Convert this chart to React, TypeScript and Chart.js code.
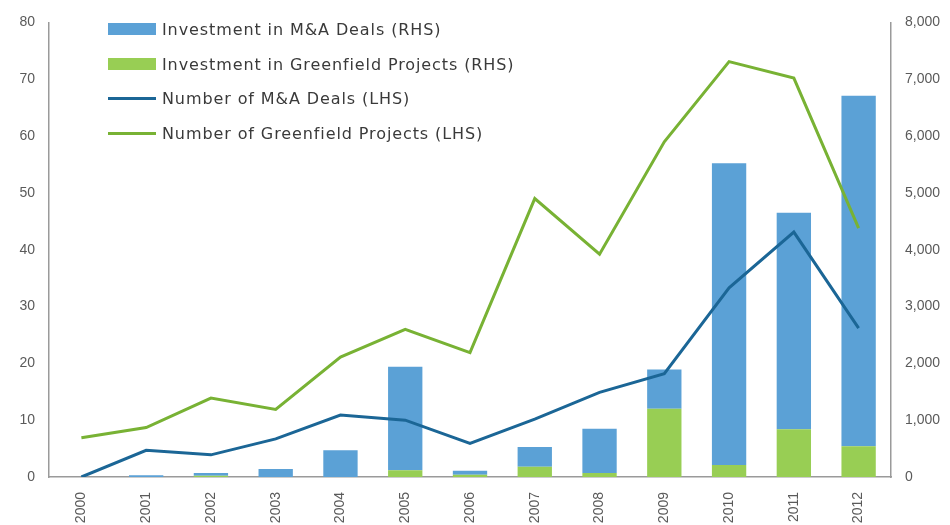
import React, { useEffect, useRef } from "react";
import { Chart, registerables } from "chart.js";

Chart.register(...registerables);

const years = ["2000", "2001", "2002", "2003", "2004", "2005", "2006", "2007", "2008", "2009", "2010", "2011", "2012"];
// Investment (RHS)
const maInvestment = [0, 30, 50, 140, 470, 1820, 70, 350, 780, 690, 5310, 3810, 6170];
const greenfieldInvestment = [0, 0, 20, 0, 0, 120, 40, 180, 70, 1200, 210, 840, 540];
// Numbers (LHS)
const maDeals = [0, 4.7, 3.9, 6.7, 10.9, 10, 5.9, 10.2, 14.9, 18.2, 33.3, 43.1, 26.2];
const greenfieldProjects = [6.9, 8.7, 13.9, 11.9, 21.1, 26.0, 21.9, 49.0, 39.2, 59.0, 73.1, 70.2, 43.8];

const legendLabels = [
  "Investment in M&A Deals (RHS)",
  "Investment in Greenfield Projects (RHS)",
  "Number of M&A Deals (LHS)",
  "Number of Greenfield Projects (LHS)",
];

const BAR_BLUE = "rgb(91,161,214)";
const BAR_GREEN = "rgb(152,206,84)";
const LINE_BLUE = "rgb(27,102,150)";
const LINE_GREEN = "rgb(120,178,52)";
const AXIS = "#9a9a9a";
const TICK = "#5a5a5a";
const FONT = "'Liberation Sans', Arial, sans-serif";

export default function App() {
  const ref = useRef<HTMLCanvasElement>(null);

  useEffect(() => {
    if (!ref.current) return;
    const chart = new Chart(ref.current, {
      data: {
        labels: years,
        datasets: [
          {
            type: "bar",
            label: legendLabels[1],
            data: greenfieldInvestment,
            backgroundColor: BAR_GREEN,
            yAxisID: "y1",
            order: 2,
            barPercentage: 0.53,
            categoryPercentage: 1,
          },
          {
            type: "bar",
            label: legendLabels[0],
            data: maInvestment,
            backgroundColor: BAR_BLUE,
            yAxisID: "y1",
            order: 2,
            barPercentage: 0.53,
            categoryPercentage: 1,
          },
          {
            type: "line",
            label: legendLabels[2],
            data: maDeals,
            borderColor: LINE_BLUE,
            borderWidth: 3,
            pointRadius: 0,
            tension: 0,
            yAxisID: "y",
            order: 1,
          },
          {
            type: "line",
            label: legendLabels[3],
            data: greenfieldProjects,
            borderColor: LINE_GREEN,
            borderWidth: 3,
            pointRadius: 0,
            tension: 0,
            yAxisID: "y",
            order: 0,
          },
        ],
      },
      options: {
        responsive: false,
        animation: false,
        layout: { padding: { top: 20, left: 0, right: 0, bottom: 0 } },
        plugins: { legend: { display: false }, tooltip: { enabled: false } },
        scales: {
          x: {
            stacked: true,
            grid: { display: false, drawTicks: false },
            border: { display: true, color: AXIS, width: 1.5 },
            ticks: {
              color: TICK,
              font: { family: FONT, size: 14 },
              minRotation: 90,
              maxRotation: 90,
              padding: 15,
              autoSkip: false,
            },
            afterFit: (s: any) => {
              s.height = 48;
            },
          },
          y: {
            position: "left",
            min: 0,
            max: 80,
            stacked: false,
            grid: { display: false, drawTicks: false },
            border: { display: true, color: AXIS, width: 1.5 },
            ticks: {
              stepSize: 10,
              color: TICK,
              font: { family: FONT, size: 14 },
              padding: 14,
            },
            afterFit: (s: any) => {
              s.width = 49;
            },
          },
          y1: {
            position: "right",
            min: 0,
            max: 8000,
            stacked: true,
            grid: { display: false, drawTicks: false },
            border: { display: true, color: AXIS, width: 1.5 },
            ticks: {
              stepSize: 1000,
              color: TICK,
              font: { family: FONT, size: 14 },
              padding: 14,
              callback: (v: any) => Number(v).toLocaleString("en-US"),
            },
            afterFit: (s: any) => {
              s.width = 59;
            },
          },
        },
      },
    });
    return () => chart.destroy();
  }, []);

  const rowTops = [29, 64, 98, 133];
  const swatches = [
    { kind: "box", color: BAR_BLUE },
    { kind: "box", color: BAR_GREEN },
    { kind: "line", color: LINE_BLUE },
    { kind: "line", color: LINE_GREEN },
  ];

  return (
    <div style={{ position: "absolute", left: 0, top: 0, width: 950, height: 525, background: "#fff" }}>
      <canvas ref={ref} width={950} height={525} style={{ display: "block" }} />
      {legendLabels.map((label, i) => (
        <div
          key={label}
          style={{
            position: "absolute",
            left: 108,
            top: rowTops[i] - 10,
            height: 20,
            display: "flex",
            alignItems: "center",
            whiteSpace: "nowrap",
          }}
        >
          <div
            style={{
              width: 48,
              height: swatches[i].kind === "box" ? 12 : 3,
              background: swatches[i].color,
            }}
          />
          <span
            style={{
              marginLeft: 6,
              fontFamily: "'DejaVu Sans', sans-serif",
              fontSize: 16,
              letterSpacing: 0.9,
              color: "#3a3a3a",
            }}
          >
            {label}
          </span>
        </div>
      ))}
    </div>
  );
}
